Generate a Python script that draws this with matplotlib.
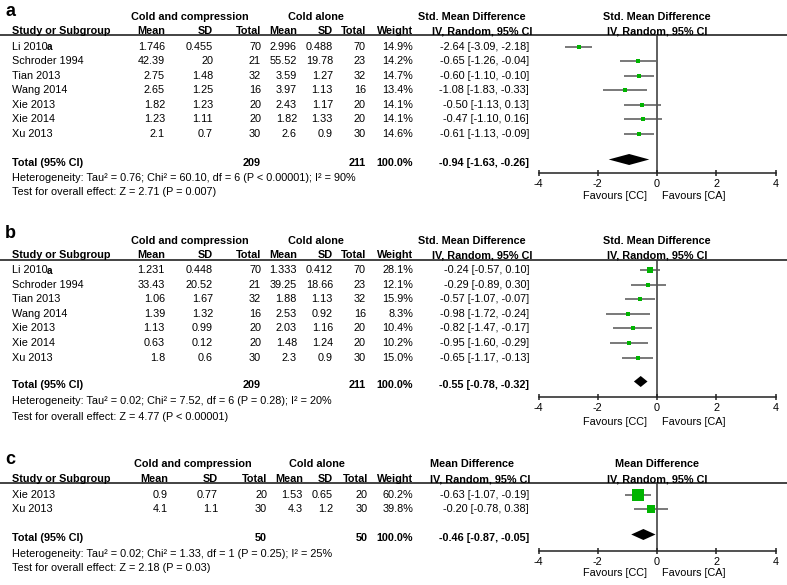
import matplotlib
matplotlib.use("Agg")
import matplotlib.pyplot as plt

plt.rcParams['font.family'] = ['Liberation Sans', 'DejaVu Sans']

# ---------------- data ----------------
# Panel a
studies_a = ["Li 2010", "Schroder 1994", "Tian 2013", "Wang 2014", "Xie 2013", "Xie 2014", "Xu 2013"]
cc_mean_a = [1.746, 42.39, 2.75, 2.65, 1.82, 1.23, 2.1]
cc_sd_a = [0.455, 20, 1.48, 1.25, 1.23, 1.11, 0.7]
cc_n_a = [70, 21, 32, 16, 20, 20, 30]
ca_mean_a = [2.996, 55.52, 3.59, 3.97, 2.43, 1.82, 2.6]
ca_sd_a = [0.488, 19.78, 1.27, 1.13, 1.17, 1.33, 0.9]
ca_n_a = [70, 23, 32, 16, 20, 20, 30]
weight_a = [14.9, 14.2, 14.7, 13.4, 14.1, 14.1, 14.6]
est_a = [-2.64, -0.65, -0.60, -1.08, -0.50, -0.47, -0.61]
lo_a = [-3.09, -1.26, -1.10, -1.83, -1.13, -1.10, -1.13]
hi_a = [-2.18, -0.04, -0.10, -0.33, 0.13, 0.16, -0.09]
total_a = [-0.94, -1.63, -0.26]
ntot_a = [209, 211]
het_a = "Heterogeneity: Tau\u00b2 = 0.76; Chi\u00b2 = 60.10, df = 6 (P < 0.00001); I\u00b2 = 90%"
test_a = "Test for overall effect: Z = 2.71 (P = 0.007)"

# Panel b
studies_b = ["Li 2010", "Schroder 1994", "Tian 2013", "Wang 2014", "Xie 2013", "Xie 2014", "Xu 2013"]
cc_mean_b = [1.231, 33.43, 1.06, 1.39, 1.13, 0.63, 1.8]
cc_sd_b = [0.448, 20.52, 1.67, 1.32, 0.99, 0.12, 0.6]
cc_n_b = [70, 21, 32, 16, 20, 20, 30]
ca_mean_b = [1.333, 39.25, 1.88, 2.53, 2.03, 1.48, 2.3]
ca_sd_b = [0.412, 18.66, 1.13, 0.92, 1.16, 1.24, 0.9]
ca_n_b = [70, 23, 32, 16, 20, 20, 30]
weight_b = [28.1, 12.1, 15.9, 8.3, 10.4, 10.2, 15.0]
est_b = [-0.24, -0.29, -0.57, -0.98, -0.82, -0.95, -0.65]
lo_b = [-0.57, -0.89, -1.07, -1.72, -1.47, -1.60, -1.17]
hi_b = [0.10, 0.30, -0.07, -0.24, -0.17, -0.29, -0.13]
total_b = [-0.55, -0.78, -0.32]
ntot_b = [209, 211]
het_b = "Heterogeneity: Tau\u00b2 = 0.02; Chi\u00b2 = 7.52, df = 6 (P = 0.28); I\u00b2 = 20%"
test_b = "Test for overall effect: Z = 4.77 (P < 0.00001)"

# Panel c
studies_c = ["Xie 2013", "Xu 2013"]
cc_mean_c = [0.9, 4.1]
cc_sd_c = [0.77, 1.1]
cc_n_c = [20, 30]
ca_mean_c = [1.53, 4.3]
ca_sd_c = [0.65, 1.2]
ca_n_c = [20, 30]
weight_c = [60.2, 39.8]
est_c = [-0.63, -0.20]
lo_c = [-1.07, -0.78]
hi_c = [-0.19, 0.38]
total_c = [-0.46, -0.87, -0.05]
ntot_c = [50, 50]
het_c = "Heterogeneity: Tau\u00b2 = 0.02; Chi\u00b2 = 1.33, df = 1 (P = 0.25); I\u00b2 = 25%"
test_c = "Test for overall effect: Z = 2.18 (P = 0.03)"

xticks = [-4, -2, 0, 2, 4]
fav_left = "Favours [CC]"
fav_right = "Favours [CA]"

# ---------------- layout ----------------
W, H = 787, 585
FS = 7.8
GREEN = '#00b400'
LINEC = '#555555'

fig = plt.figure(figsize=(W / 100, H / 100), dpi=100)
tax = fig.add_axes([0, 0, 1, 1])
tax.set_xlim(0, W)
tax.set_ylim(H, 0)
tax.axis('off')


def T(x, y, s, ha='left', bold=False, size=FS):
    tax.text(x, y, s, ha=ha, va='center', fontsize=size,
             fontweight='bold' if bold else 'normal', color='black')


def fmt(v):
    return f"{v:g}"


def panel(label, L, studies, ccm, ccs, ccn, cam, cas, can, wts, est, lo, hi,
          total, ntot, het, test, effect_name):
    cols = L['cols']
    T(5, L['label_y'], label, bold=True, size=13)
    T(L['h1a'], L['h1'], "Cold and compression", ha='center', bold=True)
    T(L['h1b'], L['h1'], "Cold alone", ha='center', bold=True)
    T(472, L['h1'], effect_name, ha='center', bold=True)
    T(657, L['h1'], effect_name, ha='center', bold=True)
    T(12, L['h2'], "Study or Subgroup", bold=True)
    for x, s in zip(cols[:6], ["Mean", "SD", "Total", "Mean", "SD", "Total"]):
        T(x, L['h2'], s, ha='right', bold=True)
    T(413, L['h2'], "Weight", ha='right', bold=True)
    T(L['ivc'], L['h2'], "IV, Random, 95% CI", ha='center', bold=True)
    T(657, L['h2'], "IV, Random, 95% CI", ha='center', bold=True)
    tax.plot([0, W], [L['line'], L['line']], color='#222222', lw=1.2,
             solid_capstyle='butt')

    ys = []
    for i, name in enumerate(studies):
        y = L['row0'] + i * L['dy']
        ys.append(y)
        T(12, y, name)
        if name == "Li 2010":
            T(47, y + 0.5, "a", bold=True, size=FS - 0.6)
        vals = [fmt(ccm[i]), fmt(ccs[i]), str(ccn[i]), fmt(cam[i]), fmt(cas[i]), str(can[i])]
        for x, s in zip(cols[:6], vals):
            T(x, y, s, ha='right')
        T(413, y, f"{wts[i]:.1f}%", ha='right')
        T(529, y, f"{est[i]:.2f} [{lo[i]:.2f}, {hi[i]:.2f}]", ha='right')

    ty = L['total']
    T(12, ty, "Total (95% CI)", bold=True)
    T(cols[2], ty, str(ntot[0]), ha='right', bold=True)
    T(cols[5], ty, str(ntot[1]), ha='right', bold=True)
    T(413, ty, "100.0%", ha='right', bold=True)
    T(529, ty, f"{total[0]:.2f} [{total[1]:.2f}, {total[2]:.2f}]", ha='right', bold=True)
    T(12, L['het'], het)
    T(12, L['test'], test)

    # forest axes (x in data units, y in pixel layout units)
    x0, x1 = 538.5, 775.5
    ax = fig.add_axes([x0 / W, 1 - L['axis'] / H, (x1 - x0) / W, (L['axis'] - L['line']) / H])
    ax.set_xlim(xticks[0], xticks[-1])
    ax.set_ylim(L['axis'], L['line'])
    ax.patch.set_alpha(0)
    for s in ['top', 'left', 'right']:
        ax.spines[s].set_visible(False)
    ax.spines['bottom'].set_color('#222222')
    ax.spines['bottom'].set_linewidth(1.1)
    ax.set_yticks([])
    ax.set_xticks(xticks)
    ax.set_xticklabels([str(t) for t in xticks])
    ax.tick_params(axis='x', direction='inout', length=5, width=1.1,
                   color='#222222', labelsize=FS, pad=2)
    ax.axvline(0, color='#333333', lw=1.1, zorder=1)
    ax.hlines(ys, lo, hi, color=LINEC, lw=1.1, zorder=2)
    for e, y, w in zip(est, ys, wts):
        side_px = 2 + 0.15 * w
        ax.plot([e], [y], marker='s', ms=side_px * 0.72, color=GREEN,
                mec=GREEN, mew=0, ls='none', zorder=3, clip_on=False)
    dy_ = ty - 3.5
    ax.fill([total[1], total[0], total[2], total[0]],
            [dy_, dy_ - 5.5, dy_, dy_ + 5.5], color='black', lw=0, zorder=3,
            clip_on=False)
    T(647, L['fav'], fav_left, ha='right')
    T(662, L['fav'], fav_right, ha='left')


La = dict(label_y=11, h1=17, h2=31, line=35, row0=47, dy=14.45, total=163,
          het=178, test=192, axis=173, fav=196, h1a=190, h1b=316, ivc=482,
          cols=[165, 213, 261, 297, 333, 366])
Lb = dict(label_y=233, h1=241, h2=255, line=259.5, row0=270, dy=14.6, total=385,
          het=400.5, test=416.5, axis=397, fav=422, h1a=190, h1b=316, ivc=482,
          cols=[165, 213, 261, 297, 333, 366])
Lc = dict(label_y=459, h1=464, h2=479, line=483, row0=495, dy=14.2, total=538,
          het=554, test=568, axis=551, fav=573, h1a=193, h1b=317, ivc=480,
          cols=[168, 218, 267, 303, 333, 368])

panel("a", La, studies_a, cc_mean_a, cc_sd_a, cc_n_a, ca_mean_a, ca_sd_a, ca_n_a,
      weight_a, est_a, lo_a, hi_a, total_a, ntot_a, het_a, test_a, "Std. Mean Difference")
panel("b", Lb, studies_b, cc_mean_b, cc_sd_b, cc_n_b, ca_mean_b, ca_sd_b, ca_n_b,
      weight_b, est_b, lo_b, hi_b, total_b, ntot_b, het_b, test_b, "Std. Mean Difference")
panel("c", Lc, studies_c, cc_mean_c, cc_sd_c, cc_n_c, ca_mean_c, ca_sd_c, ca_n_c,
      weight_c, est_c, lo_c, hi_c, total_c, ntot_c, het_c, test_c, "Mean Difference")

fig.savefig("out.png", dpi=100)
